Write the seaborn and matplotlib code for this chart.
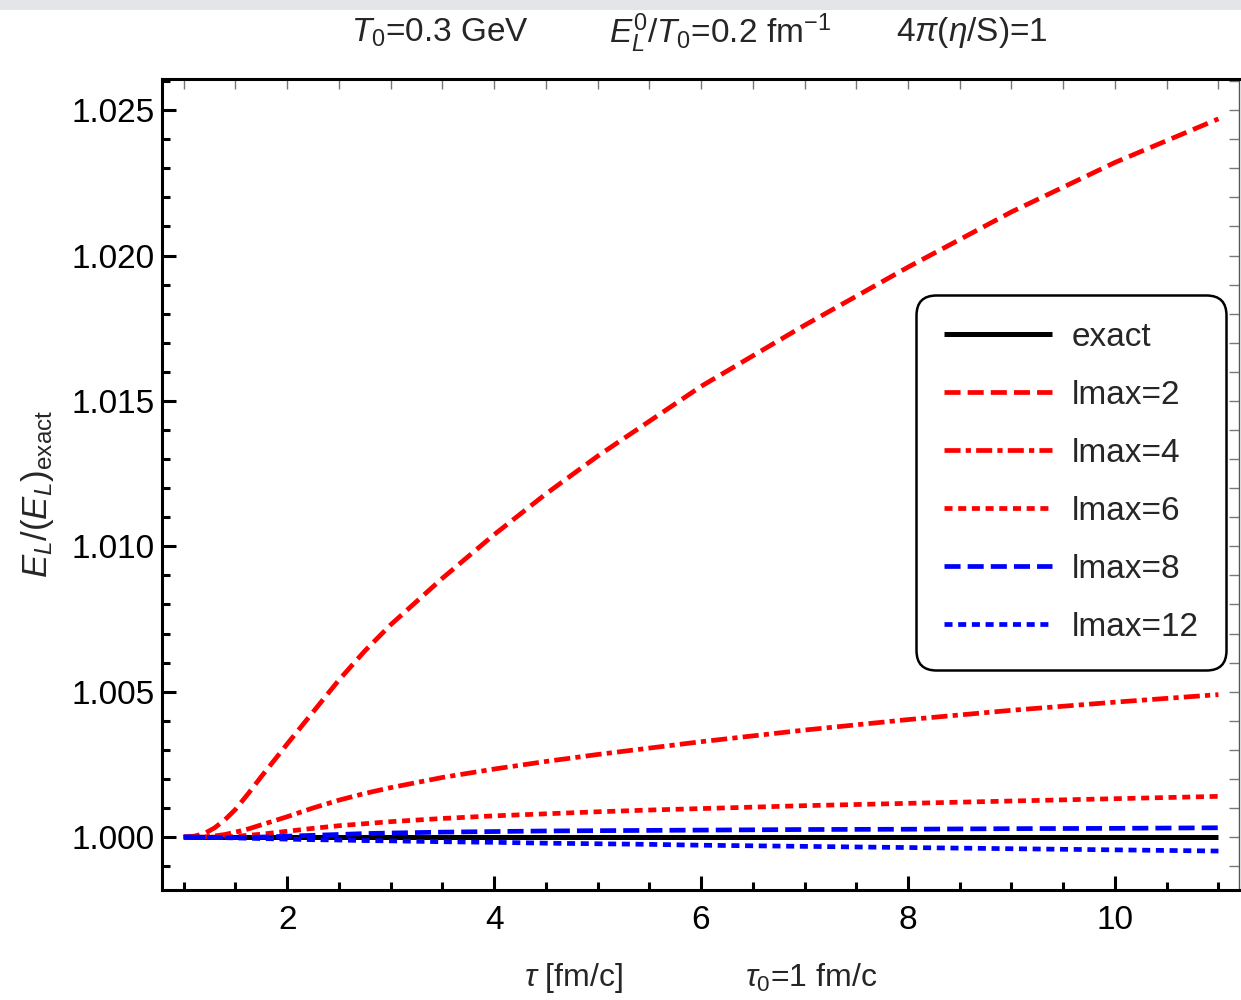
import numpy as np
import pandas as pd
import matplotlib
matplotlib.use("Agg")
import matplotlib.pyplot as plt
from matplotlib.ticker import MultipleLocator, FormatStrFormatter, NullFormatter
from matplotlib.patches import Rectangle
import seaborn as sns

# Proper time grid [fm/c]
tau = [1.0, 1.1, 1.2, 1.3, 1.4, 1.5, 1.625, 1.75, 2.0, 2.25, 2.5, 2.75, 3.0, 3.5, 4.0,
       4.5, 5.0, 5.5, 6.0, 7.0, 8.0, 9.0, 10.0, 11.0]

# Ratio E_L / (E_L)_exact for each truncation order
exact = [1.0] * len(tau)
lmax2 = [1.0000, 1.00003, 1.00012, 1.00032, 1.00060, 1.00095, 1.00150, 1.00208, 1.0032,
         1.0043, 1.0054, 1.0064, 1.0073, 1.0089, 1.0104, 1.0118, 1.0131, 1.0143, 1.0155,
         1.0176, 1.0196, 1.0215, 1.0232, 1.0247]
lmax4 = [1.0, 1.0, 1.00001, 1.00004, 1.00009, 1.00017, 1.00028, 1.00042, 1.00070,
         1.00100, 1.00127, 1.00150, 1.00170, 1.00205, 1.00234, 1.00260, 1.00284, 1.00306,
         1.00328, 1.00368, 1.00404, 1.00436, 1.00464, 1.00490]
lmax6 = [1.0, 1.0, 1.0, 1.0, 1.00001, 1.00003, 1.00006, 1.00010, 1.00020, 1.00030,
         1.00039, 1.00046, 1.00053, 1.00064, 1.00073, 1.00080, 1.00087, 1.00093, 1.00098,
         1.00108, 1.00116, 1.00124, 1.00132, 1.00140]
lmax8 = [1.0, 1.0, 0.99999, 0.99999, 0.99998, 0.99998, 0.99999, 1.0, 1.00003, 1.00006,
         1.00009, 1.00012, 1.00014, 1.00017, 1.00019, 1.00021, 1.00022, 1.00023, 1.00024,
         1.00026, 1.00027, 1.00029, 1.00030, 1.00032]
lmax12 = [1.0, 1.0, 0.99999, 0.99999, 0.99998, 0.99997, 0.99996, 0.99995, 0.99993,
          0.99991, 0.99990, 0.99988, 0.99987, 0.99984, 0.99982, 0.99979, 0.99977, 0.99975,
          0.99972, 0.99968, 0.99964, 0.99960, 0.99956, 0.99952]

labels = ["exact", "lmax=2", "lmax=4", "lmax=6", "lmax=8", "lmax=12"]
series = [exact, lmax2, lmax4, lmax6, lmax8, lmax12]

sns.set_theme(style="white")
plt.rcParams["font.family"] = ["Liberation Sans", "DejaVu Sans"]
plt.rcParams["mathtext.fontset"] = "custom"
plt.rcParams["mathtext.rm"] = "Liberation Sans"
plt.rcParams["mathtext.it"] = "Liberation Sans:italic"
plt.rcParams["mathtext.bf"] = "Liberation Sans:bold"

fig = plt.figure(figsize=(12.41, 10.0), dpi=100)
fig.patch.set_facecolor("white")
ax = fig.add_axes([0.1305, 0.110, 0.868, 0.811])
ax.set_facecolor("white")

styles = [
    dict(color="black", lw=3.6, linestyle="-"),
    dict(color="#ff0000", lw=3.4, linestyle=(0, (3.4, 1.5))),
    dict(color="#ff0000", lw=3.4, linestyle=(0, (3.4, 1.1, 1.1, 1.1))),
    dict(color="#ff0000", lw=3.4, linestyle=(0, (1.7, 1.2))),
    dict(color="#0000ff", lw=3.4, linestyle=(0, (3.4, 1.5))),
    dict(color="#0000ff", lw=3.4, linestyle=(0, (1.7, 1.2))),
]

for lab, vals, st in zip(labels, series, styles):
    df = pd.DataFrame({"tau": tau, "ratio": vals})
    sns.lineplot(data=df, x="tau", y="ratio", ax=ax, label=lab,
                 solid_capstyle="butt", dash_capstyle="butt", **st)

ax.set_xlim(0.79, 11.2)
ax.set_ylim(0.99818, 1.02607)
ax.set_xlabel("")
ax.set_ylabel("")

# Frame
for side in ["left", "bottom", "top"]:
    ax.spines[side].set_visible(True)
    ax.spines[side].set_color("black")
    ax.spines[side].set_linewidth(2.2)
ax.spines["right"].set_visible(True)
ax.spines["right"].set_color("#555555")
ax.spines["right"].set_linewidth(1.0)

ax.xaxis.set_major_locator(MultipleLocator(2))
ax.xaxis.set_minor_locator(MultipleLocator(0.5))
ax.yaxis.set_major_locator(MultipleLocator(0.005))
ax.yaxis.set_minor_locator(MultipleLocator(0.001))
ax.yaxis.set_major_formatter(FormatStrFormatter("%.3f"))
ax.tick_params(axis="both", which="major", direction="in", length=10, width=2.2,
               color="black", labelsize=24, labelcolor="black",
               bottom=True, left=True, top=False, right=False)
ax.tick_params(axis="both", which="minor", direction="in", length=5.5, width=2.2,
               color="black", bottom=True, left=True, top=False, right=False)
ax.tick_params(axis="x", which="major", pad=11)
ax.tick_params(axis="y", which="major", pad=5)

# Thin unlabeled ticks on the top and right frame edges
secx = ax.secondary_xaxis("top")
secx.xaxis.set_major_locator(MultipleLocator(0.5))
secx.xaxis.set_major_formatter(NullFormatter())
secx.tick_params(direction="in", length=7, width=1.0, color="#777777")
secx.spines["top"].set_visible(False)
secy = ax.secondary_yaxis("right")
secy.yaxis.set_major_locator(MultipleLocator(0.001))
secy.yaxis.set_major_formatter(NullFormatter())
secy.tick_params(direction="in", length=7, width=1.0, color="#777777")
secy.spines["right"].set_visible(False)

# Legend
leg = ax.legend(loc="upper right", bbox_to_anchor=(0.988, 0.734), fontsize=24,
                frameon=True, fancybox=True, handlelength=3.25, handletextpad=0.6,
                labelspacing=0.81, borderpad=0.82, borderaxespad=0.0)
frame = leg.get_frame()
frame.set_edgecolor("black")
frame.set_linewidth(1.8)
frame.set_facecolor("white")
frame.set_alpha(1.0)
frame.set_boxstyle("round,pad=0.0,rounding_size=0.6")

# Header annotations
fig.text(440 / 1241, 1 - 33 / 1000, r"$T_{\mathrm{0}}$=0.3 GeV", ha="center", va="center", fontsize=24)
fig.text(720 / 1241, 1 - 33 / 1000, r"$E_L^{\mathrm{0}}/T_{\mathrm{0}}$=0.2 fm$^{-1}$",
         ha="center", va="center", fontsize=24)
fig.text(972 / 1241, 1 - 33 / 1000, r"4$\pi$($\eta$/S)=1", ha="center", va="center", fontsize=24)

# Axis labels
fig.text(573 / 1241, 1 - 978 / 1000, r"$\tau$ [fm/c]", ha="center", va="center", fontsize=23)
fig.text(811 / 1241, 1 - 978 / 1000, r"$\tau_{\mathrm{0}}$=1 fm/c", ha="center", va="center", fontsize=23)
fig.text(38 / 1241, 1 - 494 / 1000, r"$E_L/(E_L)_{\mathrm{exact}}$", ha="center", va="center",
         rotation=90, fontsize=25)

# Light grey band along the top edge
fig.patches.append(Rectangle((0, 0.99), 1, 0.01, transform=fig.transFigure,
                             facecolor="#e3e5e8", edgecolor="none", zorder=0))

fig.savefig("out.png", dpi=100, facecolor="white")
